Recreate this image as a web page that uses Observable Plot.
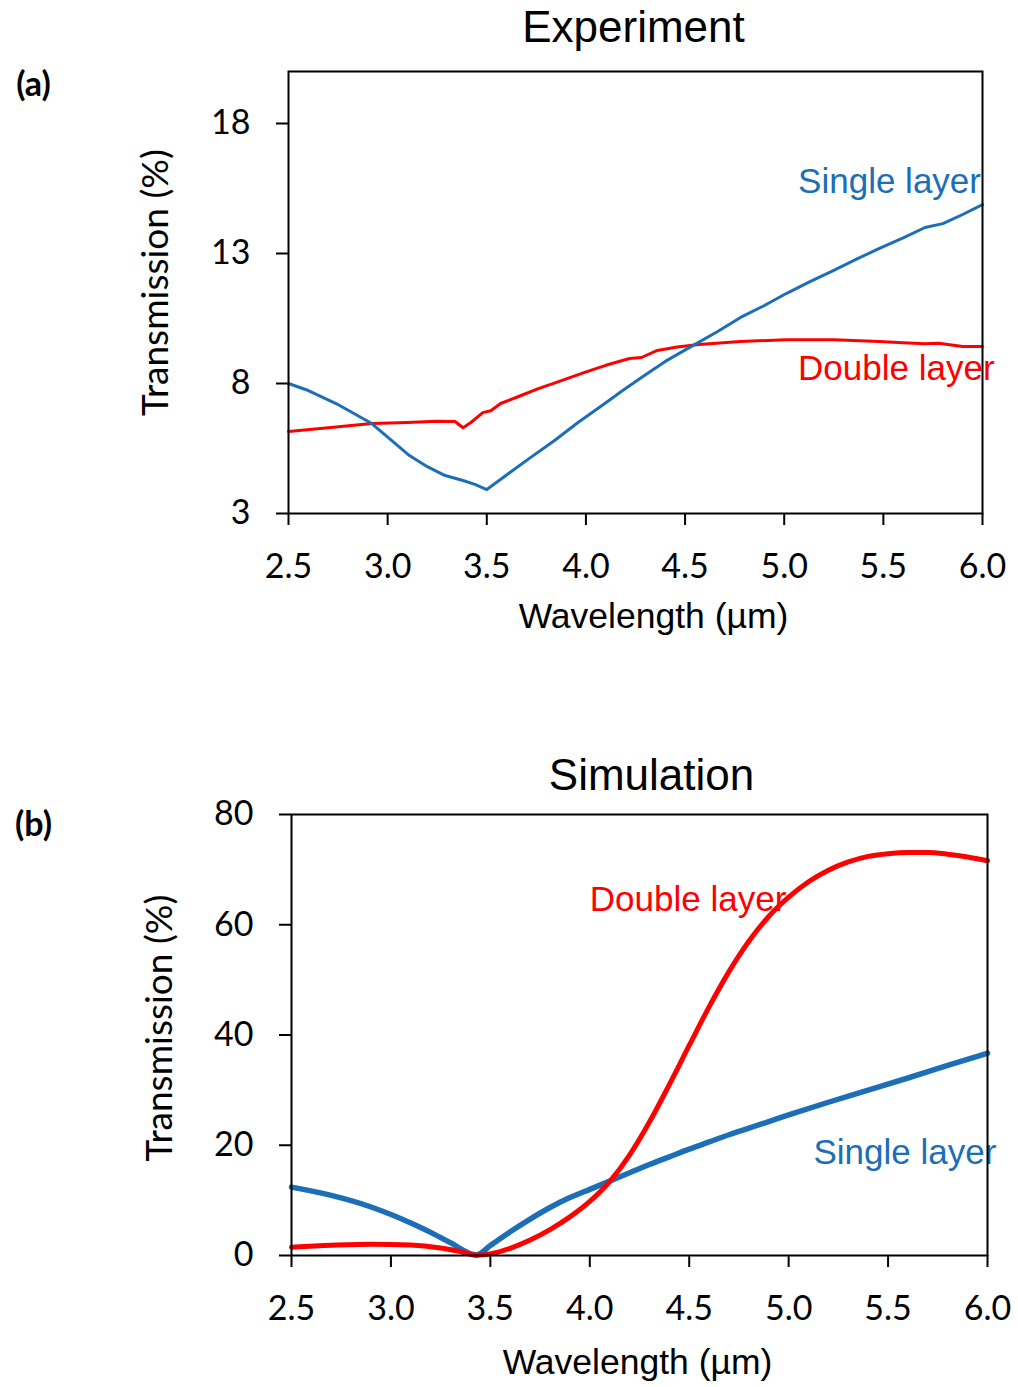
<!DOCTYPE html>
<html>
<head>
<meta charset="utf-8">
<script src="https://cdn.jsdelivr.net/npm/d3@7"></script>
<script src="https://cdn.jsdelivr.net/npm/@observablehq/plot@0.6"></script>
<style>
  html, body { margin: 0; padding: 0; background: #fff; }
  #page { width: 1018px; height: 1387px; position: relative; }
  #page svg { display: block; }
</style>
</head>
<body>
<div id="page"></div>
<script>
// ---- Colours & fonts ----
const BLUE = "#1c6eb6";
const RED = "#ff0000";
const TICK_FONT = "Lato, 'Open Sans', sans-serif";
const LABEL_FONT = "'Liberation Sans', Arial, sans-serif";

// ---- (a) Experiment: measured transmission (%) vs wavelength (µm) ----
const expSingleWl = [2.5, 2.6, 2.74, 2.92, 3.11, 3.2, 3.29, 3.38, 3.44, 3.5, 3.61, 3.72, 3.84, 3.96, 4.09, 4.18, 4.28, 4.4, 4.53, 4.66, 4.78, 4.9, 5.01, 5.13, 5.25, 5.37, 5.48, 5.6, 5.71, 5.8, 5.9, 6.0];
const expSingleT  = [8.0, 7.73, 7.23, 6.46, 5.23, 4.8, 4.46, 4.27, 4.12, 3.92, 4.54, 5.15, 5.8, 6.5, 7.2, 7.7, 8.23, 8.85, 9.42, 9.98, 10.54, 11.0, 11.46, 11.92, 12.35, 12.8, 13.2, 13.6, 14.0, 14.15, 14.5, 14.88];

const expDoubleWl = [2.5, 2.7, 2.92, 3.1, 3.25, 3.34, 3.38, 3.42, 3.48, 3.52, 3.57, 3.66, 3.76, 3.88, 3.99, 4.1, 4.22, 4.28, 4.36, 4.46, 4.57, 4.78, 5.01, 5.25, 5.48, 5.6, 5.71, 5.78, 5.9, 6.0];
const expDoubleT  = [6.15, 6.3, 6.46, 6.5, 6.55, 6.54, 6.3, 6.5, 6.88, 6.95, 7.23, 7.5, 7.8, 8.12, 8.42, 8.7, 8.96, 9.0, 9.27, 9.4, 9.5, 9.62, 9.68, 9.68, 9.62, 9.57, 9.53, 9.55, 9.42, 9.42];

// ---- (b) Simulation: computed transmission (%) vs wavelength (µm) ----
const simSingleWl = [2.5, 2.7, 2.9, 3.1, 3.2, 3.3, 3.43, 3.5, 3.6, 3.7, 3.8, 3.9, 4.0, 4.1, 4.2, 4.3, 4.4, 4.5, 4.6, 4.7, 4.8, 4.9, 5.0, 5.2, 5.4, 5.6, 5.8, 6.0];
const simSingleT  = [12.4, 10.9, 8.8, 5.9, 4.2, 2.3, 0.1, 1.8, 4.3, 6.6, 8.7, 10.5, 12.0, 13.5, 15.0, 16.5, 17.9, 19.3, 20.6, 21.9, 23.1, 24.3, 25.5, 27.8, 30.0, 32.2, 34.5, 36.7];

const simDoubleWl = [2.5, 2.7, 2.9, 3.1, 3.25, 3.35, 3.43, 3.5, 3.6, 3.7, 3.8, 3.9, 4.0, 4.1, 4.2, 4.3, 4.4, 4.5, 4.6, 4.7, 4.8, 4.9, 5.0, 5.1, 5.2, 5.3, 5.4, 5.5, 5.6, 5.7, 5.8, 5.9, 6.0];
const simDoubleT  = [1.5, 1.85, 2.05, 1.9, 1.35, 0.7, 0.05, 0.3, 1.3, 2.8, 4.7, 7.0, 9.8, 13.4, 18.2, 24.2, 31.0, 38.1, 45.1, 51.5, 57.0, 61.5, 65.0, 67.8, 69.9, 71.4, 72.4, 72.9, 73.1, 73.1, 72.8, 72.3, 71.6];

// ---- Axis ticks ----
const xTicks = [2.5, 3.0, 3.5, 4.0, 4.5, 5.0, 5.5, 6.0];
const expYTicks = [3, 8, 13, 18];
const simYTicks = [0, 20, 40, 60, 80];

const toRows = (wl, t) => wl.map((w, i) => ({wl: w, t: t[i]}));

function panel({height, margins, yDomain, yTicks, series, notes, title, titleDx, titleDy, xLabelDx, xLabelDy, yLabelDx, yLabelDy, tag, tagDx, tagDy}) {
  const marks = [
    Plot.axisY({
      ticks: yTicks, tickSize: 12, tickPadding: 26, strokeWidth: 2,
      fontSize: 34, fontFamily: TICK_FONT, label: null
    }),
    Plot.axisX({
      ticks: xTicks, tickSize: 12, tickPadding: 28, strokeWidth: 2,
      tickFormat: d3.format(".1f"),
      fontSize: 34, fontFamily: TICK_FONT, label: null
    }),
    ...series.map(s => Plot.line(toRows(s.wl, s.t), {
      x: "wl", y: "t", stroke: s.color, strokeWidth: s.width, curve: s.curve
    })),
    ...notes.map(n => Plot.text([n], {
      x: "wl", y: "t", text: "label", fill: "color", textAnchor: "start",
      lineAnchor: "middle", fontSize: 35, fontFamily: LABEL_FONT
    })),
    Plot.frame({stroke: "black", strokeWidth: 2}),
    Plot.text([title], {
      frameAnchor: "top", dx: titleDx, dy: titleDy, lineAnchor: "middle",
      fontSize: 44, fontFamily: LABEL_FONT, fill: "black"
    }),
    Plot.text(["Wavelength (µm)"], {
      frameAnchor: "bottom", dx: xLabelDx, dy: xLabelDy, lineAnchor: "middle",
      fontSize: 35.5, fontFamily: LABEL_FONT, fill: "black"
    }),
    Plot.text(["Transmission (%)"], {
      frameAnchor: "left", dx: yLabelDx, dy: yLabelDy, rotate: -90,
      textAnchor: "middle", lineAnchor: "middle",
      fontSize: 37, fontFamily: TICK_FONT, fill: "black"
    }),
    Plot.text([tag], {
      frameAnchor: "top-left", dx: tagDx, dy: tagDy, lineAnchor: "middle", textAnchor: "middle",
      fontSize: 34, fontWeight: "bold", fontFamily: TICK_FONT, fill: "black"
    })
  ];
  return Plot.plot({
    width: 1018,
    height,
    marginTop: margins[0], marginRight: margins[1], marginBottom: margins[2], marginLeft: margins[3],
    x: {domain: [2.5, 6.0]},
    y: {domain: yDomain},
    style: {background: "white", color: "black", overflow: "visible"},
    marks
  });
}

const page = document.getElementById("page");

page.append(panel({
  height: 660,
  margins: [71, 36, 147, 288],
  yDomain: [3, 20],
  yTicks: expYTicks,
  series: [
    {wl: expDoubleWl, t: expDoubleT, color: RED, width: 3, curve: "linear"},
    {wl: expSingleWl, t: expSingleT, color: BLUE, width: 3, curve: "linear"}
  ],
  notes: [
    {wl: 5.07, t: 15.77, label: "Single layer", color: BLUE},
    {wl: 5.07, t: 8.58, label: "Double layer", color: RED}
  ],
  title: "Experiment", titleDx: -2, titleDy: -44,
  xLabelDx: 18, xLabelDy: 103,
  yLabelDx: -132, yLabelDy: -10,
  tag: "(a)", tagDx: -255, tagDy: 14
}));

page.append(panel({
  height: 727,
  margins: [154, 31, 132, 291],
  yDomain: [0, 80],
  yTicks: simYTicks,
  series: [
    {wl: simSingleWl, t: simSingleT, color: BLUE, width: 5.5, curve: "monotone-x"},
    {wl: simDoubleWl, t: simDoubleT, color: RED, width: 5, curve: "monotone-x"}
  ],
  notes: [
    {wl: 4.0, t: 64.5, label: "Double layer", color: RED},
    {wl: 5.125, t: 18.7, label: "Single layer", color: BLUE}
  ],
  title: "Simulation", titleDx: 12, titleDy: -39,
  xLabelDx: -2, xLabelDy: 107,
  yLabelDx: -131, yLabelDy: -7,
  tag: "(b)", tagDx: -258, tagDy: 11
}));
</script>
</body>
</html>
